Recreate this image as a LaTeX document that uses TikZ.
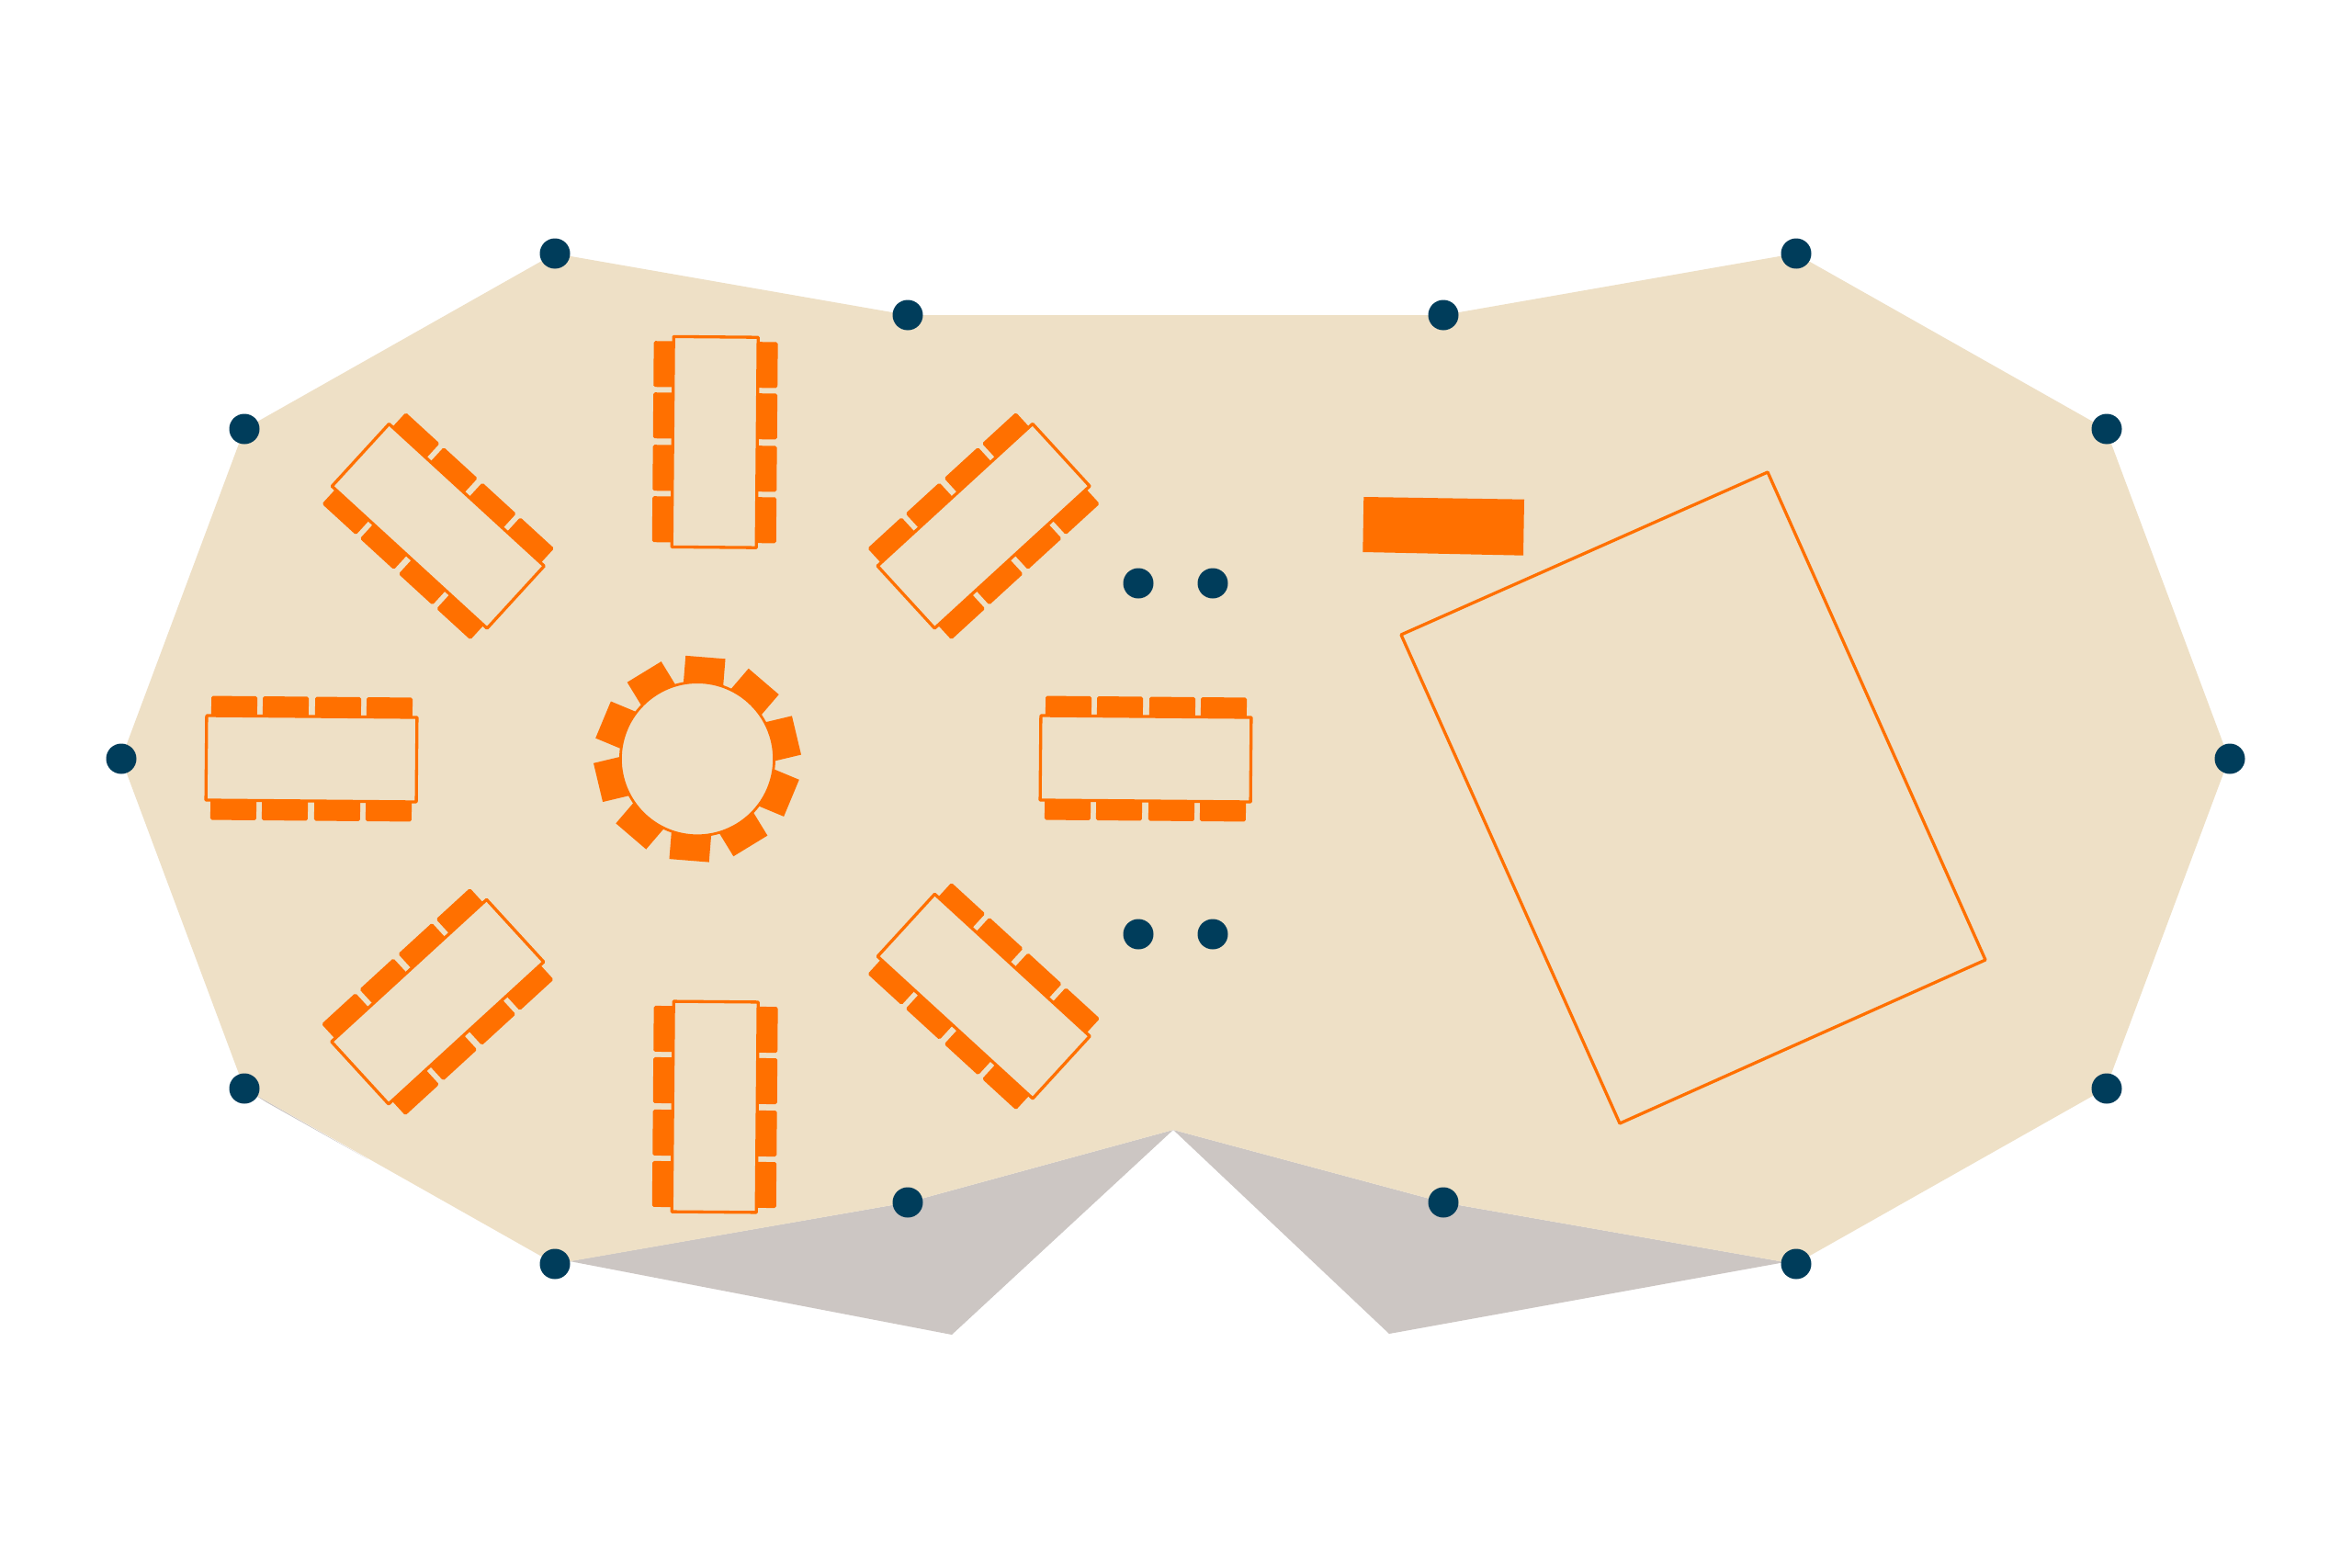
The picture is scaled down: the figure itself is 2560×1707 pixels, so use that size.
\documentclass[tikz,border=0pt]{standalone}
\definecolor{floorbeige}{HTML}{EEE0C6}
\definecolor{shadegray}{HTML}{CCC6C3}
\definecolor{accentorange}{HTML}{FF7000}
\definecolor{postnavy}{HTML}{003D5B}
\tikzset{
  floorarea/.style={fill=floorbeige},
  shadearea/.style={fill=shadegray},
  postdot/.style={circle,fill=postnavy,draw=none,inner sep=0pt,minimum size=16.5pt},
  chairbox/.style={fill=accentorange,rounded corners=0.9pt},
  roundchair/.style={fill=accentorange},
  tabletop/.style={draw=accentorange,fill=floorbeige,line width=1.65pt,line join=round},
  stageoutline/.style={draw=accentorange,line width=1.65pt,line join=round},
  solidblock/.style={fill=accentorange}
}
\newcommand{\longtable}[3]{%
  \begin{scope}[shift={(#1,#2)},rotate=#3]
    \foreach \cx in {-84.5,-28.5,28.5,84.5}{
      \fill[chairbox] (\cx-25,-67.5) rectangle (\cx+25,-44);
      \fill[chairbox] (\cx-25,44) rectangle (\cx+25,67.5);
    }
    \draw[tabletop] (-114.5,-46) rectangle (114.5,46);
  \end{scope}}
\begin{document}
\begin{tikzpicture}[x=0.5pt,y=-0.5pt]
\useasboundingbox (0,0) rectangle (2560,1707);
\fill[white] (0,0) rectangle (2560,1707);
% shaded wedges under the floor
\fill[shadearea] (620,1373) -- (1036,1453) -- (1277,1230) -- (988,1309) -- cycle;
\fill[shadearea] (1277,1230) -- (1512,1452) -- (1943,1374) -- (1571,1309) -- cycle;
\fill[shadearea] (268,1186) -- (400,1261.7) -- (290,1200) -- cycle;
% floor
\fill[floorarea] (604,276) -- (988,343) -- (1571,343) -- (1954,276) -- (2292,467) -- (2426,826)
  -- (2292,1185) -- (1954,1376) -- (1571,1309) -- (1277,1230) -- (988,1309) -- (604,1376)
  -- (266,1185) -- (132,826) -- (266,467) -- cycle;
% long tables
\longtable{339}{826}{-0.5}
\longtable{1247}{826}{-0.5}
\longtable{778.2}{481.3}{89.5}
\longtable{778.2}{1205}{89.5}
\longtable{476.8}{572.75}{-42.5}
\longtable{1070.6}{572.7}{42.5}
\longtable{476.3}{1090.6}{42.5}
\longtable{1070.7}{1084.6}{-42.5}
% round table
\begin{scope}[shift={(759,826.2)}]
  \foreach \ang in {85.4,121.4,157.4,193.4,229.4,265.4,301.4,337.4,13.4,49.4}{
    \begin{scope}[rotate=\ang]
      \fill[roundchair] (78,-21.7) rectangle (111,21.7);
    \end{scope}
  }
  \draw[draw=accentorange,fill=floorbeige,line width=1.4pt] (0,0) circle (41.8pt);
\end{scope}
% stage and block
\draw[stageoutline] (1924,514) -- (2161,1045) -- (1763,1223) -- (1525,691) -- cycle;
\fill[solidblock] (1484.3,541) -- (1659,543.7) -- (1658,604.7) -- (1483.3,601) -- cycle;
% posts
\node[postdot] (p1) at (604,276) {};
\node[postdot] (p2) at (988,343) {};
\node[postdot] (p3) at (1571,343) {};
\node[postdot] (p4) at (1955,276) {};
\node[postdot] (p5) at (2293,467) {};
\node[postdot] (p6) at (2427,826) {};
\node[postdot] (p7) at (2293,1185) {};
\node[postdot] (p8) at (1955,1376) {};
\node[postdot] (p9) at (1571,1309) {};
\node[postdot] (p10) at (988,1309) {};
\node[postdot] (p11) at (604,1376) {};
\node[postdot] (p12) at (266,1185) {};
\node[postdot] (p13) at (132,826) {};
\node[postdot] (p14) at (266,467) {};
\node[postdot] (p15) at (1239,635) {};
\node[postdot] (p16) at (1320,635) {};
\node[postdot] (p17) at (1239,1017) {};
\node[postdot] (p18) at (1320,1017) {};
\end{tikzpicture}
\end{document}
